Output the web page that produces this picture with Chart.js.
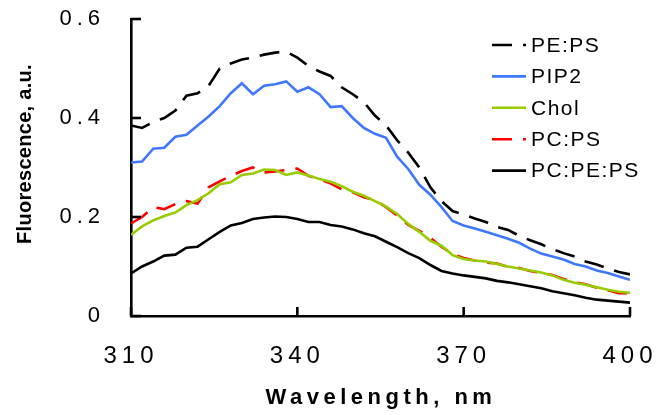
<!DOCTYPE html>
<html>
<head>
<meta charset="utf-8">
<script src="https://cdn.jsdelivr.net/npm/chart.js@4"></script>
<style>
  html, body { margin: 0; padding: 0; background: #fff; }
  #chart { display: block; }
</style>
</head>
<body>
<canvas id="chart" width="656" height="415"></canvas>
<script>
// Longitudes de onda (nm), cada 2 nm
const wavelengths = [310,312,314,316,318,320,322,324,326,328,330,332,334,336,338,340,342,344,346,348,350,352,354,356,358,360,362,364,366,368,370,372,374,376,378,380,382,384,386,388,390,392,394,396,398,400];

const pePs = [0.385,0.380,0.392,0.400,0.415,0.445,0.450,0.465,0.500,0.510,0.518,0.522,0.528,0.532,0.534,0.522,0.505,0.494,0.485,0.462,0.448,0.432,0.405,0.385,0.355,0.330,0.300,0.260,0.232,0.212,0.205,0.197,0.190,0.180,0.174,0.162,0.153,0.145,0.135,0.127,0.120,0.110,0.104,0.096,0.089,0.084];
const pip2 = [0.310,0.312,0.338,0.340,0.362,0.366,0.385,0.403,0.424,0.450,0.470,0.448,0.465,0.468,0.474,0.453,0.462,0.448,0.422,0.424,0.400,0.380,0.368,0.360,0.322,0.297,0.265,0.245,0.220,0.192,0.183,0.177,0.170,0.163,0.156,0.148,0.136,0.126,0.120,0.114,0.105,0.100,0.092,0.087,0.080,0.073];
const chol = [0.164,0.181,0.193,0.202,0.209,0.224,0.234,0.248,0.266,0.270,0.285,0.288,0.296,0.295,0.285,0.290,0.284,0.277,0.271,0.262,0.251,0.243,0.232,0.221,0.206,0.186,0.170,0.152,0.142,0.123,0.115,0.112,0.110,0.105,0.100,0.096,0.092,0.088,0.082,0.073,0.067,0.063,0.058,0.053,0.049,0.047];
const pcPs = [0.187,0.200,0.220,0.216,0.226,0.232,0.227,0.260,0.272,0.283,0.293,0.300,0.290,0.292,0.295,0.298,0.283,0.276,0.268,0.256,0.250,0.240,0.234,0.220,0.203,0.184,0.172,0.158,0.140,0.125,0.117,0.112,0.108,0.106,0.099,0.097,0.091,0.087,0.083,0.075,0.068,0.064,0.057,0.052,0.046,0.046];
const pcPePs = [0.086,0.100,0.110,0.122,0.124,0.138,0.140,0.155,0.170,0.183,0.188,0.196,0.199,0.201,0.200,0.196,0.190,0.190,0.184,0.181,0.175,0.167,0.161,0.150,0.139,0.127,0.117,0.103,0.091,0.086,0.082,0.079,0.076,0.071,0.068,0.064,0.060,0.056,0.050,0.046,0.042,0.037,0.033,0.031,0.029,0.027];

const seriesNames = ['PE:PS', 'PIP2', 'Chol', 'PC:PS', 'PC:PE:PS'];
const xTicks = [310, 340, 370, 400];
const yTicks = [0, 0.2, 0.4, 0.6];

const FONT = "'Liberation Sans', Arial, Helvetica, sans-serif";

function puntos(valores) {
    return wavelengths.map((w, i) => ({ x: w, y: valores[i] }));
}

const estilos = [
    { color: '#000000', dash: [20, 11] },
    { color: '#3f77ff', dash: [] },
    { color: '#99cc00', dash: [] },
    { color: '#ff0000', dash: [20, 11] },
    { color: '#000000', dash: [] }
];
const valores = [pePs, pip2, chol, pcPs, pcPePs];

const datasets = seriesNames.map((nombre, i) => ({
    label: nombre,
    data: puntos(valores[i]),
    borderColor: estilos[i].color,
    borderDash: estilos[i].dash,
    borderWidth: 2.6,
    pointRadius: 0,
    tension: 0,
    fill: false,
    order: i
}));

// Quitar el relleno automatico que Chart.js deja para las etiquetas
function sinRelleno(scale) {
    scale.paddingLeft = 0;
    scale.paddingRight = 0;
    scale.paddingTop = 0;
    scale.paddingBottom = 0;
}

// Marcas hacia dentro, titulos y leyenda
const extras = {
    id: 'extras',
    beforeDraw(chart) {
        chart.ctx.letterSpacing = '5px';
    },
    beforeDatasetsDraw(chart) {
        chart.ctx.letterSpacing = '0px';
    },
    afterDraw(chart) {
        const ctx = chart.ctx;
        const area = chart.chartArea;
        const xs = chart.scales.x;
        const ys = chart.scales.y;
        ctx.save();
        ctx.strokeStyle = '#000';
        ctx.lineWidth = 2.6;
        ctx.setLineDash([]);
        xTicks.forEach(v => {
            const px = xs.getPixelForValue(v);
            ctx.beginPath();
            ctx.moveTo(px, area.bottom);
            ctx.lineTo(px, area.bottom - 9);
            ctx.stroke();
        });
        yTicks.forEach(v => {
            const py = ys.getPixelForValue(v);
            ctx.beginPath();
            ctx.moveTo(area.left, py);
            ctx.lineTo(area.left + 10, py);
            ctx.stroke();
        });

        // Titulos de ejes
        ctx.fillStyle = '#000';
        ctx.textAlign = 'center';
        ctx.textBaseline = 'middle';
        ctx.font = 'bold 22px ' + FONT;
        ctx.letterSpacing = '4.5px';
        ctx.fillText('Wavelength, nm', 381, 398);

        ctx.save();
        ctx.translate(25, 154);
        ctx.rotate(-Math.PI / 2);
        ctx.font = 'bold 20px ' + FONT;
        ctx.letterSpacing = '0.3px';
        ctx.fillText('Fluorescence, a.u.', 0, 0);
        ctx.restore();

        // Leyenda
        ctx.font = '21px ' + FONT;
        ctx.letterSpacing = '1.5px';
        ctx.textAlign = 'left';
        chart.data.datasets.forEach((ds, i) => {
            const y = 45 + i * 31.4;
            ctx.strokeStyle = ds.borderColor;
            ctx.lineWidth = 2.6;
            ctx.setLineDash(ds.borderDash);
            ctx.beginPath();
            ctx.moveTo(492, y);
            ctx.lineTo(526, y);
            ctx.stroke();
            ctx.fillStyle = '#000';
            ctx.fillText(ds.label, 531, y + 1);
        });
        ctx.restore();
    }
};

new Chart(document.getElementById('chart'), {
    type: 'line',
    data: { datasets: datasets },
    options: {
        responsive: false,
        animation: false,
        devicePixelRatio: 1,
        layout: { padding: { top: 19, right: 26, left: 0, bottom: 0 } },
        plugins: {
            legend: { display: false },
            tooltip: { enabled: false }
        },
        scales: {
            x: {
                type: 'linear',
                min: 310,
                max: 400,
                afterFit(scale) { scale.height = 99; sinRelleno(scale); },
                afterBuildTicks(scale) { scale.ticks = xTicks.map(v => ({ value: v })); },
                grid: { display: false, drawTicks: false },
                border: { display: true, color: '#000', width: 2.6 },
                ticks: {
                    padding: 26,
                    color: '#000',
                    font: { family: FONT, size: 24 },
                    maxRotation: 0
                }
            },
            y: {
                min: 0,
                max: 0.6,
                afterFit(scale) { scale.width = 131; sinRelleno(scale); },
                afterBuildTicks(scale) { scale.ticks = yTicks.map(v => ({ value: v })); },
                grid: { display: false, drawTicks: false },
                border: { display: true, color: '#000', width: 2.6 },
                ticks: {
                    padding: 26,
                    color: '#000',
                    font: { family: FONT, size: 22 },
                    callback: v => (v === 0 ? '0' : v.toFixed(1))
                }
            }
        }
    },
    plugins: [extras]
});
</script>
</body>
</html>
